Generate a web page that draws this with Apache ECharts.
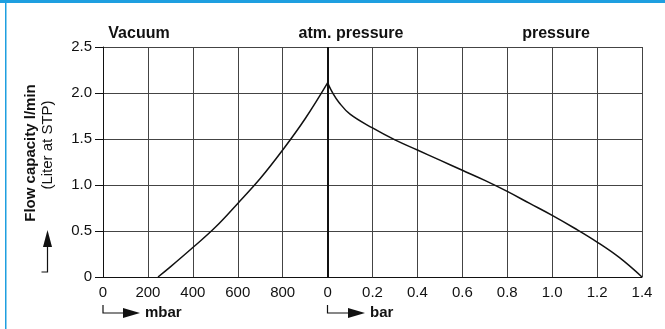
<!DOCTYPE html>
<html>
<head>
<meta charset="utf-8">
<script src="https://cdn.jsdelivr.net/npm/echarts@6/dist/echarts.min.js"></script>
<style>
  html, body { margin: 0; padding: 0; background: #fff; }
  #main { width: 665px; height: 329px; }
</style>
</head>
<body>
<div id="main"></div>
<script>
// vacuum side: [absolute pressure mbar, flow l/min]
var vacuumData = [[245, 0], [300, 0.11], [400, 0.32], [500, 0.54], [600, 0.8], [700, 1.07], [800, 1.38], [900, 1.72], [1000, 2.11]]
// pressure side: [overpressure bar, flow l/min]
var pressureData = [[0, 2.11], [0.025, 1.99], [0.05, 1.9], [0.1, 1.77], [0.2, 1.62], [0.3, 1.49], [0.4, 1.38], [0.5, 1.27], [0.6, 1.16], [0.7, 1.05], [0.8, 0.93], [0.9, 0.8], [1.0, 0.67], [1.1, 0.53], [1.2, 0.38], [1.3, 0.21], [1.4, 0]]
var mbarTicks = ['0', '200', '400', '600', '800']
var barTicks = ['0', '0.2', '0.4', '0.6', '0.8', '1.0', '1.2', '1.4']
var topLabels = ['Vacuum', 'atm. pressure', 'pressure']

// one axis unit = 200 mbar on the left, 0.2 bar on the right
var tickLabels = mbarTicks.concat(barTicks)
var vacPts = vacuumData.map(function (d) { return [d[0] / 200, d[1]] })
var prePts = pressureData.map(function (d) { return [5 + d[0] / 0.2, d[1]] })

var chart = echarts.init(document.getElementById('main'))
var font = '"Liberation Sans", Arial, sans-serif'

chart.setOption({
  backgroundColor: '#fff',
  animation: false,
  grid: { left: 103, right: 23, top: 47, bottom: 52, outerBoundsMode: 'none' },
  xAxis: {
    type: 'value',
    min: 0,
    max: 12,
    interval: 1,
    axisLine: { show: true, onZero: false, lineStyle: { color: '#111', width: 1 } },
    axisTick: { show: false },
    axisLabel: {
      margin: 8,
      color: '#111',
      fontSize: 15,
      fontFamily: font,
      formatter: function (v) { return tickLabels[Math.round(v)] }
    },
    splitLine: { show: true, lineStyle: { color: '#444', width: 1 } }
  },
  yAxis: {
    type: 'value',
    min: 0,
    max: 2.5,
    interval: 0.5,
    axisLine: { show: true, lineStyle: { color: '#111', width: 1 } },
    axisTick: { show: true, length: 8, lineStyle: { color: '#111' } },
    axisLabel: {
      margin: 11,
      color: '#111',
      fontSize: 15,
      fontFamily: font,
      formatter: function (v) { return v === 0 ? '0' : v.toFixed(1) }
    },
    splitLine: { show: true, lineStyle: { color: '#444', width: 1 } }
  },
  series: [
    {
      type: 'line',
      data: vacPts,
      smooth: 0.4,
      symbol: 'none',
      lineStyle: { color: '#111', width: 1.5 },
      markLine: {
        silent: true,
        symbol: 'none',
        label: { show: false },
        lineStyle: { color: '#111', width: 2, type: 'solid' },
        data: [{ xAxis: 5 }]
      }
    },
    {
      type: 'line',
      data: prePts,
      smooth: 0.4,
      symbol: 'none',
      lineStyle: { color: '#111', width: 1.5 }
    }
  ],
  graphic: [
    // frame
    { type: 'rect', shape: { x: 0, y: 0, width: 665, height: 3 }, style: { fill: '#1e9fe0' } },
    { type: 'rect', shape: { x: 5, y: 0, width: 1.5, height: 329 }, style: { fill: '#1e9fe0' } },
    // region labels
    { type: 'text', x: 139, y: 34, style: { text: topLabels[0], font: 'bold 16px ' + font, fill: '#111', textAlign: 'center', textVerticalAlign: 'middle' } },
    { type: 'text', x: 351, y: 34, style: { text: topLabels[1], font: 'bold 16px ' + font, fill: '#111', textAlign: 'center', textVerticalAlign: 'middle' } },
    { type: 'text', x: 556, y: 34, style: { text: topLabels[2], font: 'bold 16px ' + font, fill: '#111', textAlign: 'center', textVerticalAlign: 'middle' } },
    // y axis title
    { type: 'text', x: 31, y: 153, rotation: Math.PI / 2, style: { text: 'Flow capacity l/min', font: 'bold 15px ' + font, fill: '#111', textAlign: 'center', textVerticalAlign: 'middle' } },
    { type: 'text', x: 48, y: 145, rotation: Math.PI / 2, style: { text: '(Liter at STP)', font: '15px ' + font, fill: '#111', textAlign: 'center', textVerticalAlign: 'middle' } },
    { type: 'polyline', shape: { points: [[41.5, 272], [47.5, 272], [47.5, 246]] }, style: { stroke: '#111', lineWidth: 1.2, fill: null } },
    { type: 'polygon', shape: { points: [[47.5, 230], [43, 247], [52, 247]] }, style: { fill: '#111' } },
    // x unit arrows
    { type: 'polyline', shape: { points: [[103, 305], [103, 313], [124, 313]] }, style: { stroke: '#111', lineWidth: 1.2, fill: null } },
    { type: 'polygon', shape: { points: [[123, 308], [140, 313], [123, 318]] }, style: { fill: '#111' } },
    { type: 'text', x: 145, y: 313, style: { text: 'mbar', font: 'bold 15px ' + font, fill: '#111', textAlign: 'left', textVerticalAlign: 'middle' } },
    { type: 'polyline', shape: { points: [[327.5, 305], [327.5, 313], [349, 313]] }, style: { stroke: '#111', lineWidth: 1.2, fill: null } },
    { type: 'polygon', shape: { points: [[348, 308], [365, 313], [348, 318]] }, style: { fill: '#111' } },
    { type: 'text', x: 370, y: 313, style: { text: 'bar', font: 'bold 15px ' + font, fill: '#111', textAlign: 'left', textVerticalAlign: 'middle' } }
  ]
})
</script>
</body>
</html>
